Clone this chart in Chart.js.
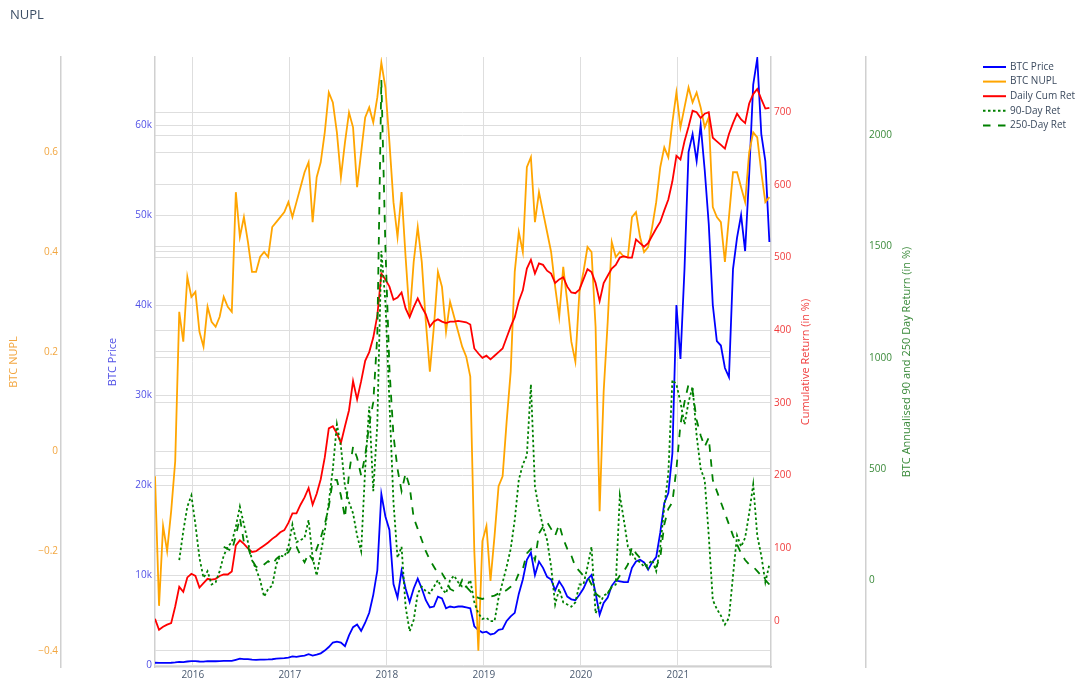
<!DOCTYPE html>
<html>
<head>
<meta charset="utf-8">
<title>NUPL</title>
<script src="https://cdn.jsdelivr.net/npm/chart.js@4.4.1/dist/chart.umd.min.js"></script>
<style>
    html, body { margin: 0; padding: 0; background: #ffffff; }
    #wrap { width: 1079px; height: 686px; }
</style>
</head>
<body>
<div id="wrap"><canvas id="nuplChart" width="1079" height="686"></canvas></div>
<script>
// Samples are taken every half month, starting mid August 2015 (decimal years)
const startYear = 2015.61;
const stepYear = 1 / 24;

const btcPrice = [
    250, 230, 240, 240, 250, 290, 360, 330, 390, 430,
    440, 390, 380, 430, 420, 420, 430, 450, 460, 450,
    580, 700, 660, 660, 590, 570, 600, 610, 620, 640,
    700, 740, 770, 830, 950, 900, 1000, 1050, 1200, 1050,
    1150, 1300, 1600, 2000, 2500, 2600, 2500, 2100, 3300, 4200,
    4500, 3800, 4700, 5800, 7800, 10500, 19000, 16500, 15000, 9000,
    7500, 10500, 8500, 7000, 8500, 9600, 8500, 7200, 6400, 6500,
    7600, 7400, 6300, 6500, 6400, 6500, 6500, 6400, 6300, 4300,
    3900, 3600, 3700, 3400, 3500, 3900, 4000, 4900, 5400, 5800,
    7900, 9500, 11700, 12500, 10000, 11500, 10800, 9800, 9500, 8300,
    9300, 8600, 7600, 7300, 7200, 7800, 8500, 9500, 10000, 8000,
    5600, 6900, 7500, 8800, 9400, 9300, 9200, 9200, 10800, 11500,
    11700, 11400, 10600, 11400, 12000, 14700, 18000, 19100, 23500, 40000,
    34000, 44000, 57000, 59000, 56000, 60000, 55000, 49000, 40000, 36000,
    35500, 33000, 32000, 44000, 47500, 50000, 46000, 54500, 64500, 67400,
    59000, 56000, 47000
];

const btcNupl = [
    -0.05, -0.31, -0.15, -0.20, -0.12, -0.02, 0.28, 0.22, 0.35, 0.31,
    0.32, 0.24, 0.21, 0.29, 0.26, 0.25, 0.27, 0.31, 0.29, 0.28,
    0.52, 0.43, 0.47, 0.42, 0.36, 0.36, 0.39, 0.40, 0.39, 0.45,
    0.46, 0.47, 0.48, 0.50, 0.47, 0.50, 0.53, 0.56, 0.58, 0.46,
    0.55, 0.58, 0.64, 0.72, 0.70, 0.64, 0.55, 0.62, 0.68, 0.65,
    0.53, 0.60, 0.67, 0.69, 0.66, 0.71, 0.78, 0.73, 0.62, 0.50,
    0.43, 0.52, 0.39, 0.27, 0.38, 0.45, 0.38, 0.26, 0.16, 0.25,
    0.36, 0.33, 0.24, 0.30, 0.27, 0.24, 0.21, 0.19, 0.15, -0.20,
    -0.40, -0.18, -0.15, -0.26, -0.17, -0.07, -0.05, 0.06, 0.16, 0.36,
    0.44, 0.40, 0.57, 0.59, 0.46, 0.52, 0.48, 0.44, 0.40, 0.33,
    0.27, 0.37, 0.30, 0.22, 0.18, 0.32, 0.36, 0.41, 0.40, 0.25,
    -0.12, 0.12, 0.26, 0.42, 0.39, 0.40, 0.39, 0.39, 0.47, 0.48,
    0.43, 0.40, 0.41, 0.45, 0.50, 0.57, 0.61, 0.59, 0.66, 0.72,
    0.65, 0.69, 0.73, 0.70, 0.72, 0.69, 0.65, 0.67, 0.49, 0.47,
    0.46, 0.38, 0.47, 0.56, 0.56, 0.53, 0.50, 0.60, 0.64, 0.63,
    0.56, 0.50, 0.51
];

const dailyCumRet = [
    3, -12, -8, -5, -3, 20, 47, 40, 60, 65,
    62, 46, 52, 58, 57, 58, 62, 64, 64, 68,
    104, 111, 106, 100, 95, 96, 100, 104, 108, 113,
    117, 122, 125, 135, 148, 148, 160, 170, 183, 160,
    175, 195, 225, 265, 268, 258, 245, 268, 290, 330,
    305, 330, 358, 370, 390, 420, 478, 470, 460, 442,
    445, 452, 430, 418, 432, 444, 432, 422, 405, 412,
    415, 412, 410, 412, 412, 413, 412, 411, 408, 375,
    368, 362, 365, 360, 365, 370, 375, 390, 405, 418,
    440, 455, 485, 497, 478, 492, 490, 482, 478, 465,
    470, 473, 460, 452, 451, 456, 470, 484, 480, 465,
    440, 465, 475, 485, 490, 500, 502, 500, 500, 525,
    520, 515, 520, 530, 540, 549, 565, 580, 605, 640,
    635, 660, 680, 702, 700, 692, 698, 700, 665, 660,
    655, 650, 670, 685, 698, 690, 685, 712, 725, 732,
    718, 705, 706
];

const ret90 = [
    null, null, null, null, null, null, 90, 220, 330, 380,
    250, 100, 10, 40, -20, -10, 40, 110, 150, 170,
    240, 330, 250, 170, 90, 50, 0, -75, -40, -25,
    70, 110, 105, 150, 250, 170, 180, 190, 270, 100,
    20, 120, 220, 350, 500, 700, 600, 420, 350, 300,
    200, 130, 500, 780, 400, 700, 1480, 1250, 800, 350,
    100, 150, -120, -230, -180, -60, -30, -50, -60, -30,
    0, -40, -60, 0, 20, -10, -30, -30, 0, -100,
    -150, -175, -170, -185, -185, -80, -10, 60, 140, 270,
    450, 520, 560, 880, 420, 320, 240, 180, 60, -110,
    -40, -100, -110, -120, -100, -20, -20, 60, 150, -150,
    -110, -70, -60, -30, -20, 380, 270, 150, 120, 90,
    80, 60, 70, 90, 40, 150, 330, 480, 900, 880,
    800, 700, 800, 870, 650, 500, 450, 200, -90, -130,
    -160, -200, -170, 20, 200, 150, 190, 300, 430, 200,
    110, -10, 70
];

const ret250 = [
    null, null, null, null, null, null, null, null, null, null,
    null, null, null, null, null, null, null, 150, 140, 130,
    200, 280, 170, 150, 90, 60, 55, 70, 85, 70,
    95, 110, 115, 125, 160, 150, 110, 80, 120, 90,
    140, 190, 250, 330, 450, 450, 380, 280, 480, 600,
    550, 470, 560, 700, 800, 1100, 2250, 1500, 950, 650,
    500, 400, 480, 420, 280, 230, 180, 130, 90, 60,
    30, 30, 0, -40, -50, -40, 0, -30, -50, -70,
    -80, -85, -80, -75, -70, -60, -55, -45, -30, -15,
    30, 50, 120, 140, 90, 210, 240, 260, 230, 200,
    250, 185, 140, 110, 60, 40, 20, 15, -20, -60,
    -75, -70, -60, -30, -10, 20, 40, 70, 150, 120,
    100, 80, 50, 40, 60, 100, 250, 320, 350, 500,
    700, 800, 880, 850, 720, 650, 600, 640, 450, 400,
    350, 300, 250, 200, 160, 120, 90, 70, 60, 40,
    20, 0, -20
];

const yearTicks = [2016, 2017, 2018, 2019, 2020, 2021];
const priceTicks = [0, 10000, 20000, 30000, 40000, 50000, 60000];
const nuplTicks = [-0.4, -0.2, 0, 0.2, 0.4, 0.6];
const cumTicks = [0, 100, 200, 300, 400, 500, 600, 700];
const annTicks = [0, 500, 1000, 1500, 2000];

const dates = btcPrice.map((v, i) => startYear + i * stepYear);

function toPoints(values) {
    return dates.map((x, i) => ({ x: x, y: values[i] }));
}

const gridColor = '#dedede';
const axisLineColor = '#d0d0d0';

// builds one y axis, width and title offset are fixed so axes land where the original has them
// titlePad = null -> title drawn by the plugin (right side titles read bottom to top)
function yAxis(position, weight, width, min, max, ticks, color, title, titlePad, fmt) {
    return {
        type: 'linear',
        position: position,
        weight: weight,
        min: min,
        max: max,
        afterBuildTicks: scale => { scale.ticks = ticks.map(v => ({ value: v })); },
        afterFit: scale => { scale.width = width; },
        grid: { color: gridColor, lineWidth: 1, drawTicks: false },
        border: { display: true, color: axisLineColor, width: 1.5 },
        ticks: { color: color, padding: 3, font: { size: 10 }, callback: fmt },
        title: {
            display: titlePad !== null,
            text: title,
            color: color,
            font: { size: 11 },
            padding: { top: titlePad || 0, bottom: 0 }
        }
    };
}

const rightTitles = [
    { axis: 'yCum', text: 'Cumulative Return (in %)', color: '#f03c3c', offset: 60 },
    { axis: 'yAnn', text: 'BTC Annualised 90 and 250 Day Return (in %)', color: '#3a8a3a', offset: 73 }
];

const extrasPlugin = {
    id: 'extras',
    afterDraw(chart) {
        const ctx = chart.ctx;
        const area = chart.chartArea;
        ctx.save();
        ctx.textBaseline = 'middle';
        ctx.textAlign = 'left';
        ctx.font = '13px "Open Sans", sans-serif';
        ctx.fillStyle = '#3d4f66';
        ctx.fillText('NUPL', 10, 15);

        // right axis titles, rotated like the left ones
        ctx.font = '11px "Open Sans", sans-serif';
        rightTitles.forEach(t => {
            const scale = chart.scales[t.axis];
            ctx.save();
            ctx.translate(scale.right - t.offset, (area.top + area.bottom) / 2);
            ctx.rotate(-Math.PI / 2);
            ctx.textAlign = 'center';
            ctx.fillStyle = t.color;
            ctx.fillText(t.text, 0, 0);
            ctx.restore();
        });

        // legend, same order as the traces
        ctx.font = '10px "Open Sans", sans-serif';
        chart.data.datasets.forEach((ds, i) => {
            const y = 67 + i * 14.6;
            ctx.strokeStyle = ds.borderColor;
            ctx.lineWidth = 2;
            ctx.setLineDash(ds.borderDash || []);
            ctx.beginPath();
            ctx.moveTo(983, y);
            ctx.lineTo(1006, y);
            ctx.stroke();
            ctx.setLineDash([]);
            ctx.fillStyle = '#3b4a5e';
            ctx.fillText(ds.label, 1010, y);
        });
        ctx.restore();
    }
};

Chart.defaults.font.family = '"Open Sans", sans-serif';

const ctx = document.getElementById('nuplChart').getContext('2d');
new Chart(ctx, {
    type: 'line',
    data: {
        datasets: [
            { label: 'BTC Price', data: toPoints(btcPrice), yAxisID: 'yPrice', borderColor: '#0000ff', borderWidth: 1.8, order: 5 },
            { label: 'BTC NUPL', data: toPoints(btcNupl), yAxisID: 'yNupl', borderColor: '#ffa500', borderWidth: 1.8, order: 4 },
            { label: 'Daily Cum Ret', data: toPoints(dailyCumRet), yAxisID: 'yCum', borderColor: '#ff0000', borderWidth: 1.8, order: 3 },
            { label: '90-Day Ret', data: toPoints(ret90), yAxisID: 'yAnn', borderColor: '#008000', borderWidth: 1.8, borderDash: [2.5, 2.5], order: 2 },
            { label: '250-Day Ret', data: toPoints(ret250), yAxisID: 'yAnn', borderColor: '#008000', borderWidth: 1.8, borderDash: [7.5, 7.5], order: 1 }
        ]
    },
    options: {
        responsive: false,
        animation: false,
        events: [],
        layout: { padding: { left: 0, top: 57, right: 99, bottom: 0 } },
        elements: {
            point: { radius: 0 },
            line: { tension: 0, fill: false }
        },
        plugins: {
            legend: { display: false },
            tooltip: { enabled: false }
        },
        scales: {
            x: {
                type: 'linear',
                position: 'bottom',
                min: 2015.61,
                max: 2021.96,
                afterBuildTicks: scale => { scale.ticks = yearTicks.map(v => ({ value: v })); },
                afterFit: scale => { scale.height = 19; },
                grid: { color: gridColor, lineWidth: 1, drawTicks: false },
                border: { display: true, color: axisLineColor, width: 1.5 },
                ticks: { color: '#4a5a70', padding: 2, font: { size: 10 }, maxRotation: 0, callback: v => String(v) }
            },
            yNupl: yAxis('left', 2, 61, -0.4327, 0.7912, nuplTicks, '#f2a640', 'BTC NUPL', 7,
                v => v < 0 ? '\u2212' + Math.abs(v) : String(v)),
            yPrice: yAxis('left', 1, 94, -220, 67560, priceTicks, '#5050e6', 'BTC Price', 45,
                v => v === 0 ? '0' : (v / 1000) + 'k'),
            yCum: yAxis('right', 1, 95, -63.3, 776, cumTicks, '#f03c3c', 'Cumulative Return (in %)', null,
                v => String(v)),
            yAnn: yAxis('right', 2, 114, -391, 2352, annTicks, '#3a8a3a', 'BTC Annualised 90 and 250 Day Return (in %)', null,
                v => String(v))
        }
    },
    plugins: [extrasPlugin]
});
</script>
</body>
</html>
